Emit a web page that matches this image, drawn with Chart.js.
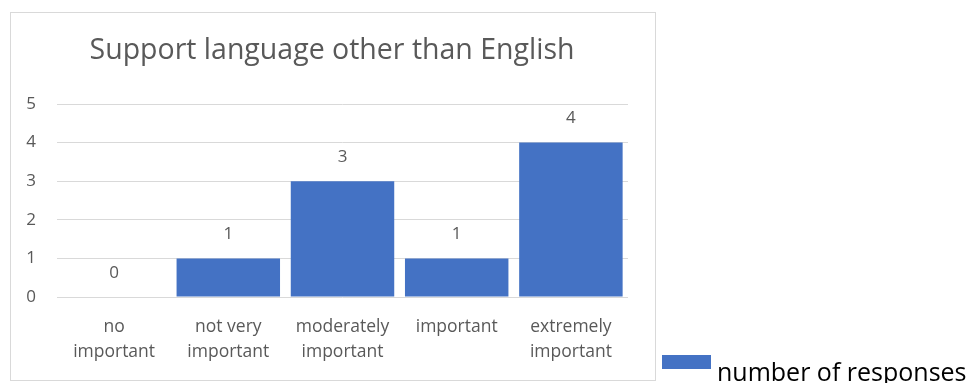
<!DOCTYPE html>
<html>
<head>
<meta charset="utf-8">
<script src="https://cdn.jsdelivr.net/npm/chart.js@4.4.1/dist/chart.umd.min.js"></script>
<style>
  html, body { margin: 0; padding: 0; background: #ffffff; }
  #wrap { width: 970px; height: 383px; position: relative; }
</style>
</head>
<body>
<div id="wrap"><canvas id="chart" width="970" height="383"></canvas></div>
<script>
// Survey answers: how important is support for languages other than English
const chartTitle = 'Support language other than English';
const categories = [
  ['no', 'important'],
  ['not very', 'important'],
  ['moderately', 'important'],
  ['important'],
  ['extremely', 'important']
];
const responses = [0, 1, 3, 1, 4];
const seriesName = 'number of responses';
const yTicks = [0, 1, 2, 3, 4, 5];

const BAR_BLUE = '#4472C4';
const TEXT_GREY = '#595959';
const GRID_GREY = '#D9D9D9';
const FONT = "'Open Sans', 'Noto Sans', sans-serif";

// Frame, title and the legend sitting outside the frame
const decorations = {
  id: 'decorations',
  beforeDraw(chart) {
    const ctx = chart.ctx;
    ctx.save();
    ctx.fillStyle = '#ffffff';
    ctx.fillRect(0, 0, chart.width, chart.height);
    ctx.strokeStyle = GRID_GREY;
    ctx.lineWidth = 1;
    ctx.strokeRect(10.5, 12.5, 645, 368);
    ctx.fillStyle = TEXT_GREY;
    ctx.font = `28.5px ${FONT}`;
    ctx.textAlign = 'center';
    ctx.textBaseline = 'middle';
    ctx.fillText(chartTitle, 332, 51);
    ctx.restore();
  },
  afterDraw(chart) {
    const ctx = chart.ctx;
    ctx.save();
    ctx.fillStyle = BAR_BLUE;
    ctx.fillRect(662, 355, 49, 14);
    ctx.fillStyle = '#000000';
    ctx.font = `25px ${FONT}`;
    ctx.textAlign = 'left';
    ctx.textBaseline = 'alphabetic';
    ctx.fillText(seriesName, 717, 381);
    ctx.restore();
  }
};

// Value printed above each bar
const valueLabels = {
  id: 'valueLabels',
  afterDatasetsDraw(chart) {
    const ctx = chart.ctx;
    const meta = chart.getDatasetMeta(0);
    ctx.save();
    ctx.fillStyle = TEXT_GREY;
    ctx.font = `17px ${FONT}`;
    ctx.textAlign = 'center';
    ctx.textBaseline = 'middle';
    meta.data.forEach((bar, i) => {
      ctx.fillText(String(chart.data.datasets[0].data[i]), bar.x, bar.y - 24);
    });
    ctx.restore();
  }
};

new Chart(document.getElementById('chart'), {
  type: 'bar',
  data: {
    labels: categories,
    datasets: [{
      label: seriesName,
      data: responses,
      backgroundColor: BAR_BLUE,
      borderWidth: 0,
      barPercentage: 0.906,
      categoryPercentage: 1.0
    }]
  },
  options: {
    responsive: false,
    animation: false,
    layout: { padding: { left: 10, right: 342, top: 104, bottom: 0 } },
    plugins: {
      legend: { display: false },
      title: { display: false },
      tooltip: { enabled: false }
    },
    scales: {
      x: {
        grid: { display: false, drawTicks: false },
        border: { display: false },
        ticks: {
          color: TEXT_GREY,
          font: { family: FONT, size: 17.5, lineHeight: 1.45 },
          padding: 17,
          maxRotation: 0,
          autoSkip: false
        },
        afterFit(scale) { scale.height = 86; }
      },
      y: {
        min: 0,
        max: 5,
        afterBuildTicks(scale) { scale.ticks = yTicks.map(v => ({ value: v })); },
        grid: { color: GRID_GREY, lineWidth: 1, drawTicks: false },
        border: { display: false },
        ticks: {
          color: TEXT_GREY,
          font: { family: FONT, size: 17 },
          padding: 21
        },
        afterFit(scale) { scale.width = 47; }
      }
    }
  },
  plugins: [decorations, valueLabels]
});
</script>
</body>
</html>
